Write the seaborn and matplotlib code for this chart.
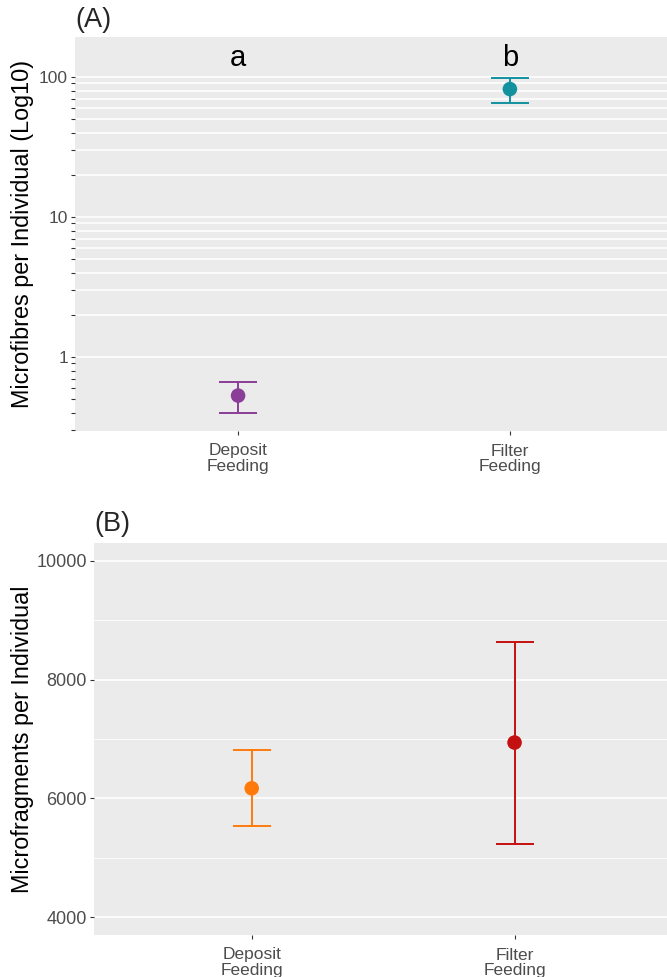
import numpy as np
import pandas as pd
import matplotlib
matplotlib.use("Agg")
import matplotlib.pyplot as plt
import seaborn as sns

# ---------------- data ----------------
groups = ["Deposit\nFeeding", "Filter\nFeeding"]
fibre_mean = [0.53, 82.0]
fibre_lo = [0.40, 65.0]
fibre_hi = [0.66, 99.0]
fibre_colors = ["#8B3E98", "#12919F"]
sig_letters = ["a", "b"]
letter_y = [136.0, 136.0]

frag_mean = [6170.0, 6940.0]
frag_lo = [5530.0, 5240.0]
frag_hi = [6820.0, 8630.0]
frag_colors = ["#FF7A0A", "#C41010"]

fibre_ticks = [0.3, 0.4, 0.5, 0.6, 0.7, 0.8, 0.9,
               1, 2, 3, 4, 5, 6, 7, 8, 9,
               10, 20, 30, 40, 50, 60, 70, 80, 90, 100]
fibre_grid = [1, 2, 3, 4, 5, 6, 7, 8, 9,
              10, 20, 30, 40, 50, 60, 70, 80, 90, 100]
fibre_labels = {1: "1", 10: "10", 100: "100"}
frag_major = [4000, 6000, 8000, 10000]
frag_minor = [5000, 7000, 9000]

# ---------------- style ----------------
sns.set_style("darkgrid", {"axes.facecolor": "#EBEBEB", "grid.color": "white"})
plt.rcParams["font.family"] = ["Liberation Sans", "DejaVu Sans"]

W, H = 667, 977
fig = plt.figure(figsize=(W / 100, H / 100), dpi=100)

def px_axes(left, top, right, bottom):
    return fig.add_axes([left / W, 1 - bottom / H, (right - left) / W, (bottom - top) / H])

axA = px_axes(75, 37, 667, 431)
axB = px_axes(94, 543, 667, 935)

tick_col = "#4D4D4D"

def base_style(ax):
    ax.grid(False)
    for s in ax.spines.values():
        s.set_visible(False)
    ax.tick_params(axis="both", which="both", bottom=True, left=True,
                   length=3, width=0.8, color="#333333",
                   labelcolor=tick_col, pad=2)

# ---------------- Panel A ----------------
dfA = pd.DataFrame({"group": groups, "mean": fibre_mean, "lo": fibre_lo,
                    "hi": fibre_hi})
base_style(axA)
axA.set_yscale("log")
for v in fibre_grid:
    axA.axhline(v, color="white", lw=1.1, zorder=0.5)
for i, row in dfA.iterrows():
    axA.errorbar([row["group"]], [row["mean"]],
                 yerr=[[row["mean"] - row["lo"]], [row["hi"] - row["mean"]]],
                 fmt="none", ecolor=fibre_colors[i], elinewidth=1.4,
                 capsize=14, capthick=1.4, zorder=2)
sns.scatterplot(data=dfA, x="group", y="mean", hue="group",
                palette=fibre_colors, s=110, edgecolor="none",
                legend=False, ax=axA, zorder=3)
for i, (g, t) in enumerate(zip(groups, sig_letters)):
    axA.text(i, letter_y[i], t, ha="center", va="center", fontsize=21,
             color="black")
axA.set_xlim(-0.6, 1.578)
axA.set_ylim(0.296, 193)
axA.set_yticks(fibre_ticks)
axA.set_yticklabels([fibre_labels.get(v, "") for v in fibre_ticks])
axA.yaxis.set_minor_locator(matplotlib.ticker.NullLocator())
axA.tick_params(axis="y", labelsize=12.5)
axA.tick_params(axis="x", labelsize=12.5, pad=6)
for lab in axA.get_xticklabels():
    lab.set_linespacing(1.0)
axA.set_xlabel("")
axA.set_ylabel("Microfibres per Individual (Log10)", fontsize=16.8,
               color="black")
axA.yaxis.set_label_coords(-0.07, 0.5)
fig.text(75 / W, 1 - 20 / H, "(A)", fontsize=19.5, va="center", ha="left")

# ---------------- Panel B ----------------
dfB = pd.DataFrame({"group": groups, "mean": frag_mean, "lo": frag_lo,
                    "hi": frag_hi})
base_style(axB)
for v in frag_major:
    axB.axhline(v, color="white", lw=1.2, zorder=0.5)
for v in frag_minor:
    axB.axhline(v, color="white", lw=0.6, zorder=0.5)
for i, row in dfB.iterrows():
    axB.errorbar([row["group"]], [row["mean"]],
                 yerr=[[row["mean"] - row["lo"]], [row["hi"] - row["mean"]]],
                 fmt="none", ecolor=frag_colors[i], elinewidth=1.4,
                 capsize=14, capthick=1.4, zorder=2)
sns.scatterplot(data=dfB, x="group", y="mean", hue="group",
                palette=frag_colors, s=110, edgecolor="none",
                legend=False, ax=axB, zorder=3)
axB.set_xlim(-0.6, 1.58)
axB.set_ylim(3700, 10300)
axB.set_yticks(frag_major)
axB.set_yticklabels([str(v) for v in frag_major])
axB.tick_params(axis="y", labelsize=13)
axB.tick_params(axis="x", labelsize=12.5, pad=6)
for lab in axB.get_xticklabels():
    lab.set_linespacing(1.0)
axB.set_xlabel("")
axB.set_ylabel("Microfragments per Individual", fontsize=16.8, color="black")
axB.yaxis.set_label_coords(-0.104, 0.5)
fig.text(94 / W, 1 - 524 / H, "(B)", fontsize=19.5, va="center", ha="left")

fig.savefig("out.png", dpi=100)
